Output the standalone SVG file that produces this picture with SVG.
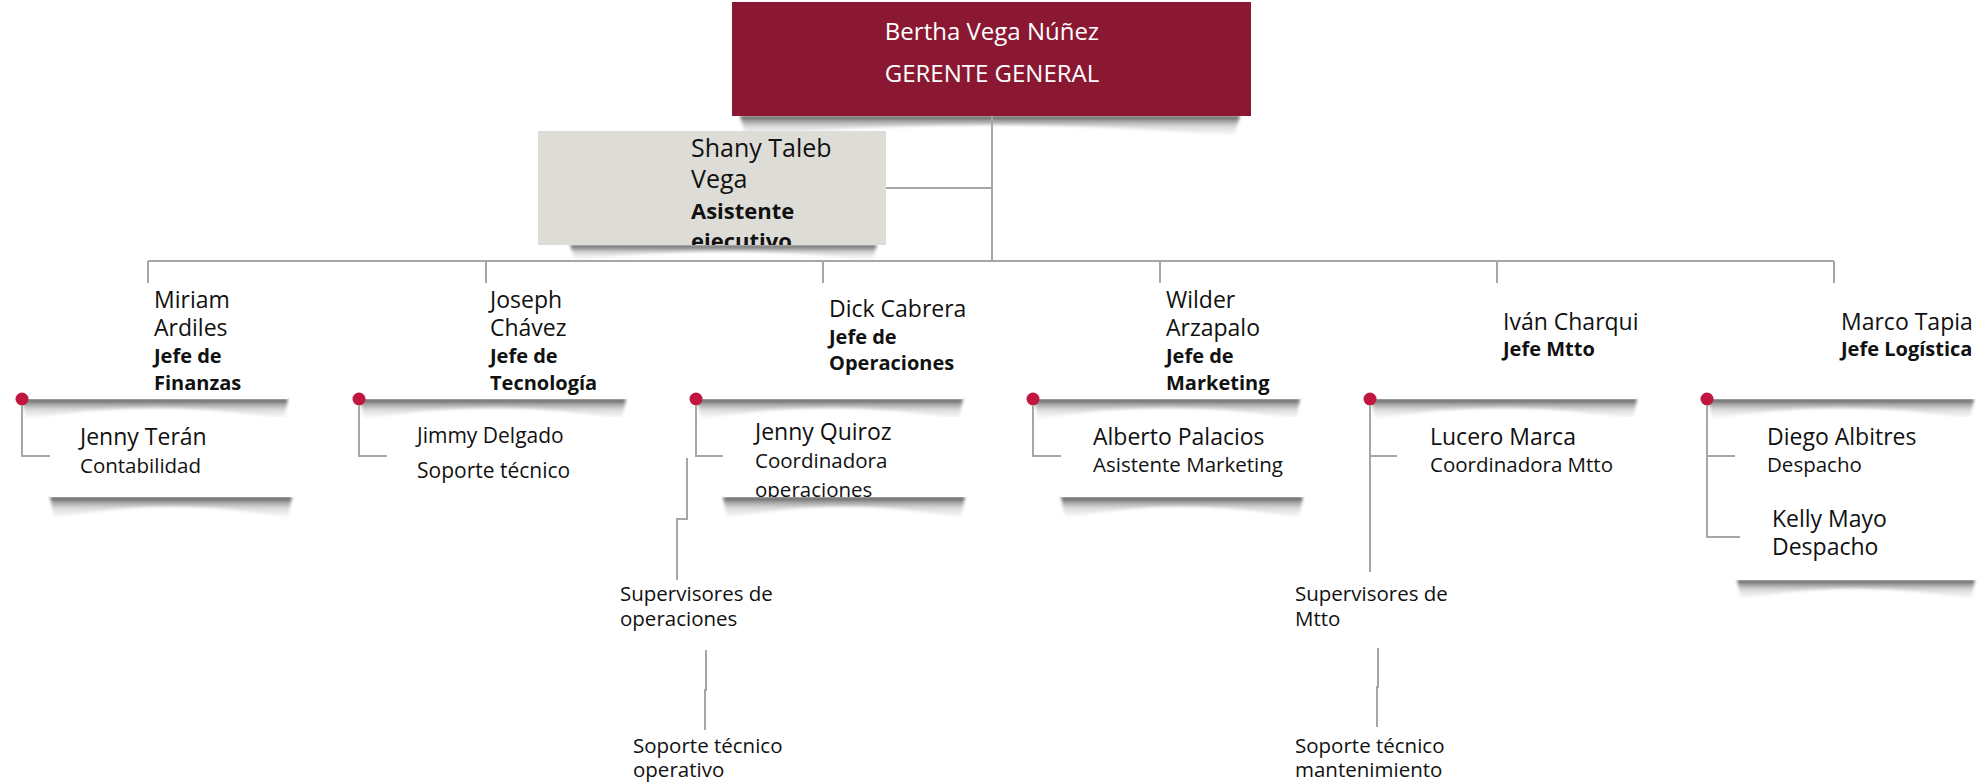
<svg xmlns="http://www.w3.org/2000/svg" xmlns:xlink="http://www.w3.org/1999/xlink" width="1977" height="784" viewBox="0 0 1977 784">
<style>
text{font-family:'Open Sans','Noto Sans','Liberation Sans',sans-serif;fill:#111111}
.top{font-size:24px;fill:#ffffff}
.sh{font-size:25px}
.shb{font-size:22px;font-weight:700}
.nm{font-size:23px}
.rl{font-size:20.5px}
.sm{font-size:21px}
.bd{font-size:20px;font-weight:700}
.ln{stroke:#A6A6A6;stroke-width:2;fill:none}
.card{fill:#ffffff}
.dot{fill:#C0163F}
</style>
<defs>
<linearGradient id="shg" x1="0" y1="0" x2="0" y2="1">
<stop offset="0" stop-color="#000" stop-opacity="0.8"/>
<stop offset="0.15" stop-color="#000" stop-opacity="0.45"/>
<stop offset="0.5" stop-color="#000" stop-opacity="0.15"/>
<stop offset="1" stop-color="#000" stop-opacity="0"/>
</linearGradient>
<filter id="blur" x="-5%" y="-40%" width="110%" height="180%">
<feGaussianBlur stdDeviation="1.8"/>
</filter>
<path id="shUp" d="M0,0 H266 L262,20 Q133,-2 4,20 Z" fill="url(#shg)" filter="url(#blur)"/>
<path id="shLo" d="M0,0 H242 L238,21 Q121,-2 4,21 Z" fill="url(#shg)" filter="url(#blur)"/>
<path id="shMarco" d="M0,0 H238 L234,19 Q119,-2 4,19 Z" fill="url(#shg)" filter="url(#blur)"/>
<path id="shTop" d="M0,0 H500 L494,20 Q250,-2 6,20 Z" fill="url(#shg)" filter="url(#blur)"/>
<path id="shSh" d="M0,0 H307 L302,15 Q153,-2 5,15 Z" fill="url(#shg)" filter="url(#blur)"/>
<clipPath id="cShany"><rect x="538" y="131" width="348" height="114"/></clipPath>
<clipPath id="cQuiroz"><rect x="723" y="417" width="245" height="80"/></clipPath>
</defs>

<rect x="0" y="0" width="1977" height="784" fill="#ffffff"/>

<g id="gerente">
<use href="#shTop" x="740" y="116"/>
<rect x="732" y="2" width="519" height="114" fill="#8A1833"/>
<text class="top" x="992" y="40" text-anchor="middle">Bertha Vega Núñez</text>
<text class="top" x="992" y="82" text-anchor="middle">GERENTE GENERAL</text>
</g>

<g id="asistente">
<use href="#shSh" x="570" y="245"/>
<rect x="538" y="131" width="348" height="114" fill="#DEDCD6"/>
<g clip-path="url(#cShany)">
<text class="sh" x="691" y="157">Shany Taleb</text>
<text class="sh" x="691" y="188">Vega</text>
<text class="shb" x="691" y="219">Asistente</text>
<text class="shb" x="691" y="249">ejecutivo</text>
</g>
</g>

<g id="finanzas">
<use href="#shUp" x="22" y="399"/>
<use href="#shLo" x="50" y="497"/>
<rect class="card" x="22" y="284" width="266" height="115"/>
<rect class="card" x="50" y="417" width="244" height="80"/>
<circle class="dot" cx="22" cy="399" r="6.5"/>
<text class="nm" x="154" y="308">Miriam</text>
<text class="nm" x="154" y="336">Ardiles</text>
<text class="bd" x="154" y="363">Jefe de</text>
<text class="bd" x="154" y="390">Finanzas</text>
<text class="nm" x="80" y="445">Jenny Terán</text>
<text class="rl" x="80" y="473">Contabilidad</text>
</g>

<g id="tecnologia">
<use href="#shUp" x="360" y="399"/>
<rect class="card" x="360" y="284" width="266" height="115"/>
<rect class="card" x="387" y="417" width="244" height="80"/>
<circle class="dot" cx="359" cy="399" r="6.5"/>
<text class="nm" x="490" y="308">Joseph</text>
<text class="nm" x="490" y="336">Chávez</text>
<text class="bd" x="490" y="363">Jefe de</text>
<text class="bd" x="490" y="390">Tecnología</text>
<text class="sm" x="417" y="443">Jimmy Delgado</text>
<text class="sm" x="417" y="478">Soporte técnico</text>
</g>

<g id="operaciones">
<use href="#shUp" x="697" y="399"/>
<use href="#shLo" x="723" y="497"/>
<rect class="card" x="697" y="284" width="266" height="115"/>
<rect class="card" x="723" y="417" width="244" height="80"/>
<circle class="dot" cx="696" cy="399" r="6.5"/>
<text class="nm" x="829" y="317">Dick Cabrera</text>
<text class="bd" x="829" y="344">Jefe de</text>
<text class="bd" x="829" y="370">Operaciones</text>
<g clip-path="url(#cQuiroz)">
<text class="nm" x="755" y="440">Jenny Quiroz</text>
<text class="rl" x="755" y="468">Coordinadora</text>
<text class="rl" x="755" y="497">operaciones</text>
</g>
</g>

<g id="supervisores-operaciones">
<text class="rl" x="620" y="601">Supervisores de</text>
<text class="rl" x="620" y="626">operaciones</text>
</g>
<g id="soporte-operativo">
<text class="rl" x="633" y="753">Soporte técnico</text>
<text class="rl" x="633" y="777">operativo</text>
</g>

<g id="marketing">
<use href="#shUp" x="1034" y="399"/>
<use href="#shLo" x="1061" y="497"/>
<rect class="card" x="1034" y="284" width="266" height="115"/>
<rect class="card" x="1061" y="417" width="244" height="80"/>
<circle class="dot" cx="1033" cy="399" r="6.5"/>
<text class="nm" x="1166" y="308">Wilder</text>
<text class="nm" x="1166" y="336">Arzapalo</text>
<text class="bd" x="1166" y="363">Jefe de</text>
<text class="bd" x="1166" y="390">Marketing</text>
<text class="nm" x="1093" y="445">Alberto Palacios</text>
<text class="rl" x="1093" y="472">Asistente Marketing</text>
</g>

<g id="mantenimiento">
<use href="#shUp" x="1371" y="399"/>
<rect class="card" x="1371" y="284" width="266" height="115"/>
<rect class="card" x="1397" y="417" width="244" height="80"/>
<circle class="dot" cx="1370" cy="399" r="6.5"/>
<text class="nm" x="1503" y="330">Iván Charqui</text>
<text class="bd" x="1503" y="356">Jefe Mtto</text>
<text class="nm" x="1430" y="445">Lucero Marca</text>
<text class="rl" x="1430" y="472">Coordinadora Mtto</text>
</g>

<g id="supervisores-mtto">
<text class="rl" x="1295" y="601">Supervisores de</text>
<text class="rl" x="1295" y="626">Mtto</text>
</g>
<g id="soporte-mantenimiento">
<text class="rl" x="1295" y="753">Soporte técnico</text>
<text class="rl" x="1295" y="777">mantenimiento</text>
</g>

<g id="logistica">
<use href="#shUp" x="1708" y="399"/>
<use href="#shMarco" x="1737" y="580"/>
<rect class="card" x="1708" y="284" width="269" height="115"/>
<rect class="card" x="1735" y="417" width="242" height="163"/>
<circle class="dot" cx="1707" cy="399" r="6.5"/>
<text class="nm" x="1841" y="330">Marco Tapia</text>
<text class="bd" x="1841" y="356">Jefe Logística</text>
<text class="nm" x="1767" y="445">Diego Albitres</text>
<text class="rl" x="1767" y="472">Despacho</text>
<text class="nm" x="1772" y="527">Kelly Mayo</text>
<text class="nm" x="1772" y="555">Despacho</text>
</g>

<g id="connectors" class="ln">
<path d="M992,116 V261"/>
<path d="M886,188 H992"/>
<path d="M148,261 H1834"/>
<path d="M148,261 V283 M486,261 V283 M823,261 V283 M1160,261 V283 M1497,261 V283 M1834,261 V283"/>
<path d="M22,405 V456 H50"/>
<path d="M359,405 V456 H387"/>
<path d="M696,405 V456 H723"/>
<path d="M1033,405 V456 H1061"/>
<path d="M1370,405 V572 M1370,456 H1397"/>
<path d="M1707,405 V537 H1740 M1707,456 H1735"/>
<path d="M687,458 V519 H677 V580"/>
<path d="M706,650 V690 H705 V730"/>
<path d="M1378,648 V687 H1377 V727"/>
</g>
</svg>
